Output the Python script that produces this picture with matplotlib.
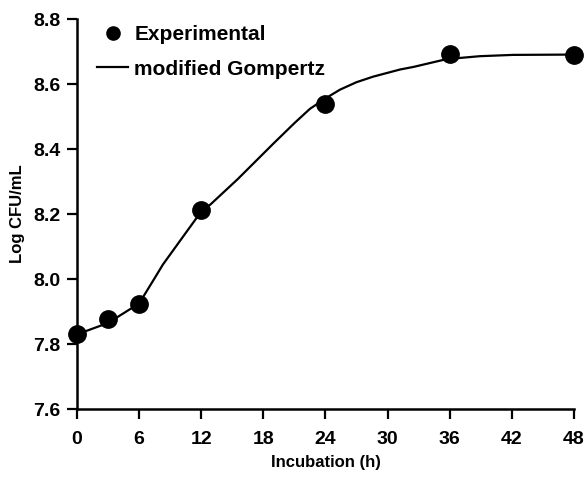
import numpy as np
import matplotlib
matplotlib.use("Agg")
from matplotlib import pyplot as plt
from matplotlib.lines import Line2D

plt.rcParams['font.family'] = ['Liberation Sans', 'DejaVu Sans']
plt.rcParams['font.weight'] = 'bold'

# measured counts
hours = [0, 3, 6, 12, 24, 36, 48]
log_cfu = [7.83, 7.876, 7.923, 8.212, 8.54, 8.694, 8.691]

# fitted growth curve
fit_hours = [0, 3, 6, 7.5, 8.3, 10, 12, 12.9, 15.5, 19, 21, 22.5, 24, 25.4, 27,
             28.6, 31.2, 32.5, 35.7, 38.9, 42.1, 48]
fit_log_cfu = [7.83, 7.865, 7.925, 8.003, 8.045, 8.12, 8.208, 8.23, 8.307, 8.418, 8.48,
               8.524, 8.556, 8.583, 8.606, 8.623, 8.645, 8.653, 8.677, 8.686, 8.690, 8.691]

xticks = [0, 6, 12, 18, 24, 30, 36, 42, 48]
yticks = [7.6, 7.8, 8.0, 8.2, 8.4, 8.6, 8.8]

fig = plt.figure(figsize=(5.88, 4.79), dpi=100)
ax = fig.add_axes([0.131, 0.146, 0.845, 0.814])

ax.plot(fit_hours, fit_log_cfu, color='black', lw=1.6, clip_on=False)
ax.plot(hours, log_cfu, 'o', color='black', ms=12.5, clip_on=False, zorder=3)

ax.set_xlim(0, 48)
ax.set_ylim(7.6, 8.8)
ax.set_xticks(xticks)
ax.set_yticks(yticks)
ax.set_yticklabels(['%.1f' % v for v in yticks])
ax.tick_params(direction='out', length=7, width=1.6, labelsize=14, pad=5)
ax.tick_params(axis='x', pad=9)
for s in ['top', 'right']:
    ax.spines[s].set_visible(False)
for s in ['left', 'bottom']:
    ax.spines[s].set_linewidth(1.8)

ax.set_xlabel('Incubation (h)', fontsize=12, fontweight='bold', labelpad=5)
ax.set_ylabel('Log CFU/mL', fontsize=12, fontweight='bold', labelpad=6)

handles = [Line2D([], [], ls='none', marker='o', color='black', ms=9.5),
           Line2D([], [], color='black', lw=1.6)]
ax.legend(handles, ['Experimental', 'modified Gompertz'], loc='upper left',
          bbox_to_anchor=(0.04, 0.985), borderpad=0, borderaxespad=0,
          frameon=False, fontsize=15, handlelength=1.5, handletextpad=0.3,
          labelspacing=0.75)

fig.savefig('out.png', dpi=100)
